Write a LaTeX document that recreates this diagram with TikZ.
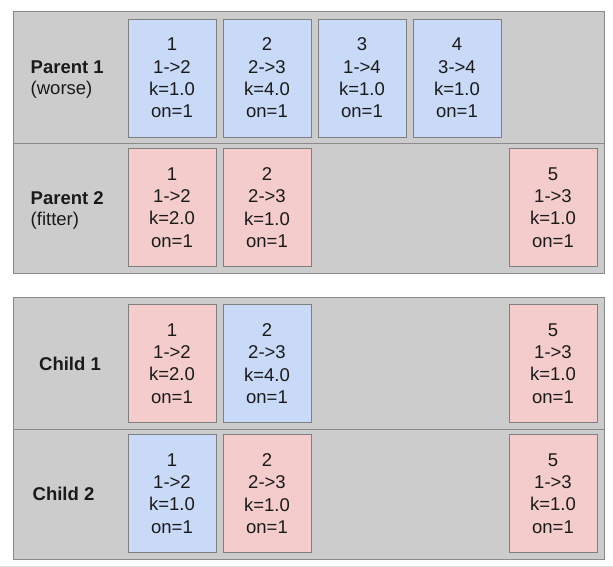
\documentclass[tikz,border=0pt]{standalone}
\usepackage{fontspec}
\setmainfont{Liberation Sans}
\definecolor{panelgray}{HTML}{CCCCCC}
\definecolor{panelline}{HTML}{8A8A8A}
\definecolor{boxline}{HTML}{7F7F7F}
\definecolor{geneblue}{HTML}{C9DAF8}
\definecolor{genered}{HTML}{F4CCCC}
\definecolor{txt}{HTML}{1A1A1A}
\tikzset{
  gene/.style={draw=boxline, line width=0.9pt, minimum width=88pt, minimum height=118pt,
    inner sep=0pt, align=center, text=txt, font=\fontsize{18.5}{22.3}\selectfont},
  bluegene/.style={gene, fill=geneblue},
  redgene/.style={gene, fill=genered},
  panel/.style={draw=panelline, fill=panelgray, line width=0.9pt},
  divider/.style={draw=panelline, line width=0.9pt},
  lbl/.style={text=txt, font=\fontsize{18.5}{22.3}\selectfont, inner sep=0pt},
}
\begin{document}
\begin{tikzpicture}[x=1pt, y=-1pt]
\useasboundingbox[fill=white] (0,0) rectangle (613,567);
% panels
\draw[panel] (13,11) rectangle (604,273);
\draw[divider] (13,143) -- (604,143);
\draw[panel] (13,297) rectangle (604,559);
\draw[divider] (13,429) -- (604,429);
\draw[draw=gray!25, line width=0.8pt] (0,566) -- (613,566);
% labels
\node[lbl, anchor=west] (lp1) at (30.5,67) {\textbf{Parent 1}};
\node[lbl, anchor=west] (lp1s) at (30.5,90) {(worse)};
\node[lbl, anchor=west] (lp2) at (30.5,198) {\textbf{Parent 2}};
\node[lbl, anchor=west] (lp2s) at (30.5,221) {(fitter)};
\node[lbl] (lc1) at (70,363.5) {\textbf{Child 1}};
\node[lbl] (lc2) at (63.5,493.5) {\textbf{Child 2}};
% Parent 1
\node[bluegene] (a1) at (172,78) {1\\1->2\\k=1.0\\on=1};
\node[bluegene] (a2) at (267,78) {2\\2->3\\k=4.0\\on=1};
\node[bluegene] (a3) at (362,78) {3\\1->4\\k=1.0\\on=1};
\node[bluegene] (a4) at (457,78) {4\\3->4\\k=1.0\\on=1};
% Parent 2
\node[redgene] (b1) at (172,207.5) {1\\1->2\\k=2.0\\on=1};
\node[redgene] (b2) at (267,207.5) {2\\2->3\\k=1.0\\on=1};
\node[redgene] (b5) at (553,207.5) {5\\1->3\\k=1.0\\on=1};
% Child 1
\node[redgene] (c1) at (172,363.5) {1\\1->2\\k=2.0\\on=1};
\node[bluegene] (c2) at (267,363.5) {2\\2->3\\k=4.0\\on=1};
\node[redgene] (c5) at (553,363.5) {5\\1->3\\k=1.0\\on=1};
% Child 2
\node[bluegene] (d1) at (172,493.5) {1\\1->2\\k=1.0\\on=1};
\node[redgene] (d2) at (267,493.5) {2\\2->3\\k=1.0\\on=1};
\node[redgene] (d5) at (553,493.5) {5\\1->3\\k=1.0\\on=1};
\end{tikzpicture}
\end{document}
